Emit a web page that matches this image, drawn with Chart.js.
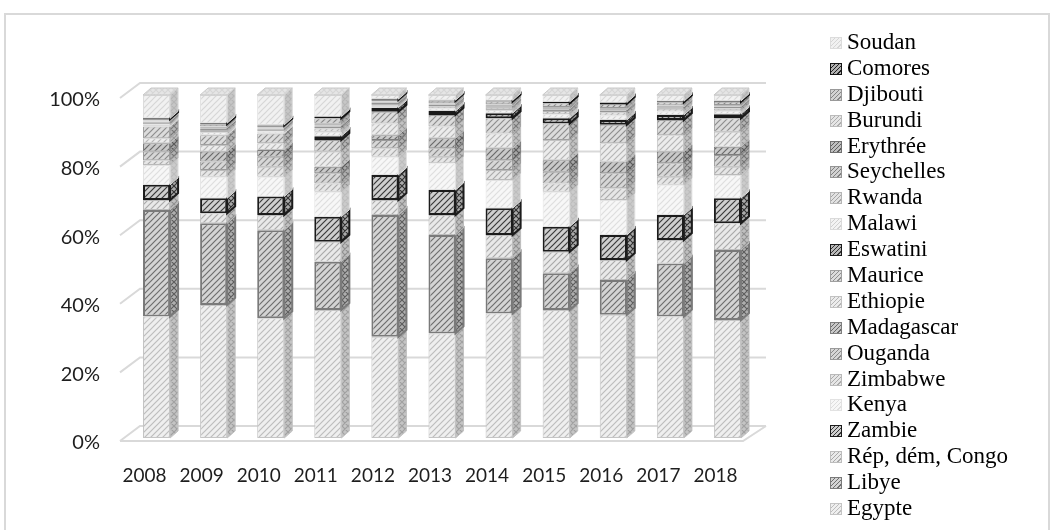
<!DOCTYPE html>
<html>
<head>
<meta charset="utf-8">
<script src="https://cdn.jsdelivr.net/npm/chart.js@4.4.1/dist/chart.umd.min.js"></script>
<style>
  html, body { margin: 0; padding: 0; background: #fff; }
  #wrap { position: relative; width: 1056px; height: 530px; overflow: hidden; }
  #frame { position: absolute; left: 4px; top: 13px; width: 1046px; height: 540px; border: 2px solid #d9d9d9; box-sizing: border-box; }
  #chart { position: absolute; left: 0; top: 0; }
  #legend { position: absolute; left: 830px; top: 29px; margin: 0; padding: 0; list-style: none;
            font-family: "Liberation Serif", "Times New Roman", serif; font-size: 23px; color: #000; }
  #legend li { height: 25.9px; line-height: 25.9px; white-space: nowrap; }
  #legend .box { display: inline-block; width: 12px; height: 12px; box-sizing: border-box; margin-right: 5px; vertical-align: baseline; }
</style>
</head>
<body>
<div id="wrap">
  <div id="frame"></div>
  <canvas id="chart" width="1056" height="530"></canvas>
  <ul id="legend"></ul>
</div>
<script>
// categories
const years = ["2008", "2009", "2010", "2011", "2012", "2013", "2014", "2015", "2016", "2017", "2018"];
const yTicks = [0, 20, 40, 60, 80, 100];

// shares per country (%), bottom of the stack first
const egypte     = [35.4, 38.8, 34.9, 37.3, 29.5, 30.5, 36.3, 37.3, 35.9, 35.4, 34.4];
const libye      = [31.1, 23.8, 25.7, 14.1, 35.5, 28.7, 16.1, 10.7, 10.2, 15.5, 20.4];
const rdc        = [2.9, 2.9, 4.4, 5.8, 4.4, 5.8, 6.8, 6.3, 5.8, 6.8, 7.8];
const zambie     = [4.4, 4.4, 5.4, 7.3, 7.3, 7.3, 7.8, 7.3, 7.3, 7.3, 7.3];
const kenya      = [5.8, 6.3, 5.8, 7.3, 5.3, 7.8, 8.2, 10.2, 10.2, 8.8, 6.8];
const zimbabwe   = [1.4, 1.9, 2.9, 2.4, 2.5, 1.9, 2.9, 2.4, 3.4, 2.4, 2.4];
const ouganda    = [2.5, 2.5, 2.9, 3.0, 2.4, 2.5, 2.9, 3.4, 4.4, 3.9, 3.4];
const madagascar = [2.4, 2.9, 2.0, 1.9, 1.4, 2.9, 3.5, 3.4, 3.4, 3.4, 2.4];
const ethiopie   = [1.5, 1.9, 1.9, 4.4, 3.4, 3.4, 4.3, 5.9, 5.3, 4.8, 4.4];
const maurice    = [3.4, 2.9, 2.9, 3.4, 3.4, 3.4, 4.4, 4.8, 5.4, 4.4, 3.9];
const eswatini   = [0, 0, 0, 1.1, 1.2, 1.1, 1.5, 1.5, 1.4, 1.5, 1.2];
const malawi     = [0.6, 0.9, 0.6, 1.3, 0.6, 0.8, 0.9, 1.2, 1.3, 1.0, 1.0];
const rwanda     = [0.5, 0.6, 0.5, 0.9, 0.5, 0.6, 0.7, 0.9, 1.0, 0.8, 0.7];
const seychelles = [0.3, 0.4, 0.3, 0.6, 0.3, 0.4, 0.4, 0.5, 0.5, 0.4, 0.4];
const erythree   = [0.1, 0.2, 0.1, 0.2, 0.1, 0.1, 0.1, 0.1, 0.1, 0.1, 0.1];
const burundi    = [0.3, 0.4, 0.3, 0.6, 0.3, 0.4, 0.5, 0.6, 0.6, 0.5, 0.5];
const djibouti   = [0.4, 0.7, 0.5, 1.6, 0.5, 0.7, 0.8, 1.1, 1.2, 0.9, 0.9];
const comores    = [0.2, 0.3, 0.2, 0.5, 0.2, 0.2, 0.3, 0.4, 0.4, 0.3, 0.3];
const soudan     = [6.8, 8.2, 8.7, 6.3, 1.2, 1.5, 1.6, 2.0, 2.2, 1.8, 1.7];

const seriesNames = ["Egypte", "Libye", "Rép, dém, Congo", "Zambie", "Kenya", "Zimbabwe", "Ouganda",
  "Madagascar", "Ethiopie", "Maurice", "Eswatini", "Malawi", "Rwanda", "Seychelles", "Erythrée",
  "Burundi", "Djibouti", "Comores", "Soudan"];
const seriesValues = [egypte, libye, rdc, zambie, kenya, zimbabwe, ouganda, madagascar, ethiopie,
  maurice, eswatini, malawi, rwanda, seychelles, erythree, burundi, djibouti, comores, soudan];

// grey hatch styles: [fill, hatch, border, border width]
const seriesStyles = [
  ["#efefef", "#bdbdbd", "#c4c4c4", 1],
  ["#d4d4d4", "#6e6e6e", "#7a7a7a", 2],
  ["#e9e9e9", "#a9a9a9", "#bdbdbd", 1],
  ["#cfcfcf", "#3a3a3a", "#1c1c1c", 2],
  ["#f7f7f7", "#dedede", "#e2e2e2", 1],
  ["#e6e6e6", "#ababab", "#bababa", 1],
  ["#d7d7d7", "#8a8a8a", "#9a9a9a", 1],
  ["#c9c9c9", "#6a6a6a", "#7e7e7e", 1],
  ["#ececec", "#b5b5b5", "#c2c2c2", 1],
  ["#dcdcdc", "#8e8e8e", "#a0a0a0", 1],
  ["#b9b9b9", "#333333", "#1a1a1a", 2],
  ["#f3f3f3", "#d0d0d0", "#dadada", 1],
  ["#e2e2e2", "#a5a5a5", "#b5b5b5", 1],
  ["#d2d2d2", "#808080", "#959595", 1],
  ["#bfbfbf", "#5f5f5f", "#707070", 1],
  ["#e5e5e5", "#adadad", "#bbbbbb", 1],
  ["#d3d3d3", "#868686", "#999999", 1],
  ["#b2b2b2", "#222222", "#141414", 2],
  ["#f1f1f1", "#d6d6d6", "#dcdcdc", 1]
];

const ctx = document.getElementById("chart").getContext("2d");

function shade(hex, f) {
  const n = parseInt(hex.slice(1), 16);
  const r = Math.round(((n >> 16) & 255) * f), g = Math.round(((n >> 8) & 255) * f), b = Math.round((n & 255) * f);
  return "rgb(" + r + "," + g + "," + b + ")";
}

function hatch(base, line, cross) {
  const s = 6;
  const c = document.createElement("canvas");
  c.width = s; c.height = s;
  const g = c.getContext("2d");
  g.fillStyle = base;
  g.fillRect(0, 0, s, s);
  g.strokeStyle = line;
  g.lineWidth = 1.2;
  g.beginPath();
  g.moveTo(0, s); g.lineTo(s, 0);
  g.moveTo(-1, 1); g.lineTo(1, -1);
  g.moveTo(s - 1, s + 1); g.lineTo(s + 1, s - 1);
  if (cross) { g.moveTo(0, 0); g.lineTo(s, s); }
  g.stroke();
  return ctx.createPattern(c, "repeat");
}

const frontPatterns = seriesStyles.map(st => hatch(st[0], st[1], false));
const sidePatterns = seriesStyles.map(st => hatch(shade(st[0], 0.82), shade(st[1], 0.85), true));
const topPatterns = seriesStyles.map(st => hatch(shade(st[0], 0.95), st[1], true));

const DX = 8, DY = 7;

// draws walls, floor, gridlines and the 3D faces of the bars
const bar3d = {
  id: "bar3d",
  beforeDatasetsDraw(chart) {
    const c = chart.ctx, area = chart.chartArea, ys = chart.scales.y;
    c.save();
    c.strokeStyle = "#d9d9d9";
    c.lineWidth = 2;
    yTicks.forEach(v => {
      const y = ys.getPixelForValue(v);
      c.beginPath();
      c.moveTo(area.left - 8, y + 3);
      c.lineTo(area.left + 12, y - 12);
      c.lineTo(area.right + 10, y - 12);
      c.stroke();
    });
    const y0 = ys.getPixelForValue(0);
    c.beginPath();
    c.moveTo(area.left - 8, y0 + 3);
    c.lineTo(area.right - 13, y0 + 3);
    c.lineTo(area.right + 10, y0 - 12);
    c.stroke();
    c.restore();
  },
  afterDatasetsDraw(chart) {
    const c = chart.ctx;
    c.save();
    const n = chart.data.datasets.length;
    for (let i = 0; i < n; i++) {
      const meta = chart.getDatasetMeta(i);
      meta.data.forEach(bar => {
        const p = bar.getProps(["x", "y", "base", "width"], true);
        if (Math.abs(p.base - p.y) < 0.2) return;
        const r = p.x + p.width / 2;
        c.beginPath();
        c.moveTo(r, p.y);
        c.lineTo(r + DX, p.y - DY);
        c.lineTo(r + DX, p.base - DY);
        c.lineTo(r, p.base);
        c.closePath();
        c.fillStyle = sidePatterns[i];
        c.fill();
        c.strokeStyle = seriesStyles[i][2];
        c.lineWidth = seriesStyles[i][3];
        c.stroke();
      });
    }
    years.forEach((yr, j) => {
      let top = n - 1;
      while (top > 0 && !(seriesValues[top][j] > 0)) top--;
      const p = chart.getDatasetMeta(top).data[j].getProps(["x", "y", "width"], true);
      const l = p.x - p.width / 2, r = p.x + p.width / 2;
      c.beginPath();
      c.moveTo(l, p.y);
      c.lineTo(l + DX, p.y - DY);
      c.lineTo(r + DX, p.y - DY);
      c.lineTo(r, p.y);
      c.closePath();
      c.fillStyle = topPatterns[top];
      c.fill();
      c.strokeStyle = "#c8c8c8";
      c.lineWidth = 1;
      c.stroke();
    });
    c.restore();
  }
};

const datasets = seriesNames.map((name, i) => ({
  label: name,
  data: seriesValues[i],
  backgroundColor: frontPatterns[i],
  borderColor: seriesStyles[i][2],
  borderWidth: seriesStyles[i][3],
  borderSkipped: false,
  categoryPercentage: 1,
  barPercentage: 0.474
}));

new Chart(ctx, {
  type: "bar",
  data: { labels: years, datasets: datasets },
  options: {
    responsive: false,
    animation: false,
    layout: { padding: { left: 20, right: 300, top: 95, bottom: 42 } },
    plugins: { legend: { display: false }, tooltip: { enabled: false } },
    scales: {
      x: {
        stacked: true,
        grid: { display: false },
        border: { display: false },
        ticks: { color: "#1e1e1e", padding: 18, labelOffset: -12, font: { family: "Lato", size: 19 } },
        afterFit: s => { s.height = 50; }
      },
      y: {
        stacked: true,
        min: 0,
        max: 100,
        grid: { display: false },
        border: { display: false },
        afterBuildTicks: s => { s.ticks = yTicks.map(v => ({ value: v })); },
        ticks: { color: "#1e1e1e", padding: 20, labelOffset: 5, font: { family: "Lato", size: 20 }, callback: v => v + "%" },
        afterFit: s => { s.width = 108; }
      }
    }
  },
  plugins: [bar3d]
});

// legend, top of the stack first
const legend = document.getElementById("legend");
for (let i = seriesNames.length - 1; i >= 0; i--) {
  const st = seriesStyles[i];
  const li = document.createElement("li");
  const box = document.createElement("span");
  box.className = "box";
  box.style.border = "1px solid " + st[2];
  box.style.background = "repeating-linear-gradient(-45deg, " + st[0] + " 0 2px, " + st[1] + " 2px 3px)";
  li.appendChild(box);
  li.appendChild(document.createTextNode(seriesNames[i]));
  legend.appendChild(li);
}
</script>
</body>
</html>
